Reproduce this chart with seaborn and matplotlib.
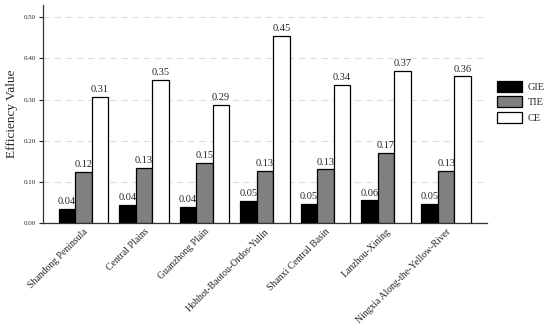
import numpy as np
import pandas as pd
import matplotlib
matplotlib.use('Agg')
import matplotlib.pyplot as plt
import seaborn as sns

# Data
regions = ['Shandong Peninsula', 'Central Plains', 'Guanzhong Plain',
           'Hohhot-Baotou-Ordos-Yulin', 'Shanxi Central Basin',
           'Lanzhou-Xining', 'Ningxia Along-the-Yellow-River']
gie = [0.035, 0.044, 0.039, 0.054, 0.046, 0.055, 0.046]
tie = [0.124, 0.133, 0.146, 0.127, 0.130, 0.171, 0.127]
ce = [0.306, 0.347, 0.286, 0.454, 0.336, 0.370, 0.356]
series = ['GIE', 'TIE', 'CE']
yticks = [0.0, 0.1, 0.2, 0.3, 0.4, 0.5]

df = pd.DataFrame({'Region': regions * 3,
                   'Type': ['GIE'] * 7 + ['TIE'] * 7 + ['CE'] * 7,
                   'Value': gie + tie + ce})

sns.set_style('white')
plt.rcParams['font.family'] = ['Liberation Serif', 'DejaVu Serif']

fig = plt.figure(figsize=(5.5, 3.25), dpi=100)
ax = fig.add_axes([0.078, 0.314, 0.807, 0.671])

sns.barplot(data=df, x='Region', y='Value', hue='Type', hue_order=series,
            palette=['black', '#808080', 'white'], edgecolor='black',
            linewidth=0.9, width=0.82, errorbar=None, ax=ax, zorder=3)

for cont in ax.containers:
    ax.bar_label(cont, fmt='%.2f', fontsize=7.5, padding=2)

ax.set_ylim(0, 0.53)
ax.set_xlim(-0.67, 6.67)
ax.set_yticks(yticks)
ax.set_yticklabels(['%.2f' % v for v in yticks], fontsize=5)
ax.set_xticks(range(len(regions)))
ax.set_xticklabels(regions, rotation=45, ha='right', rotation_mode='anchor', fontsize=7)
ax.tick_params(axis='y', length=3, width=0.8, left=True, pad=2)
ax.tick_params(axis='x', length=0, pad=3)
ax.set_xlabel('')
ax.set_ylabel('Efficiency Value', fontsize=9.5)

for y in yticks[1:]:
    ax.axhline(y, color='#dddddd', linestyle=(0, (6, 4)), linewidth=0.8, zorder=0)

sns.despine(ax=ax)
for s in ['left', 'bottom']:
    ax.spines[s].set_color('#333333')
    ax.spines[s].set_linewidth(0.9)

ax.legend(loc='center left', bbox_to_anchor=(1.022, 0.555), frameon=False,
          fontsize=7.5, handlelength=2.4, handleheight=1.2, labelspacing=0.45,
          handletextpad=0.6, borderpad=0, borderaxespad=0)

fig.savefig('out.png', dpi=100)
